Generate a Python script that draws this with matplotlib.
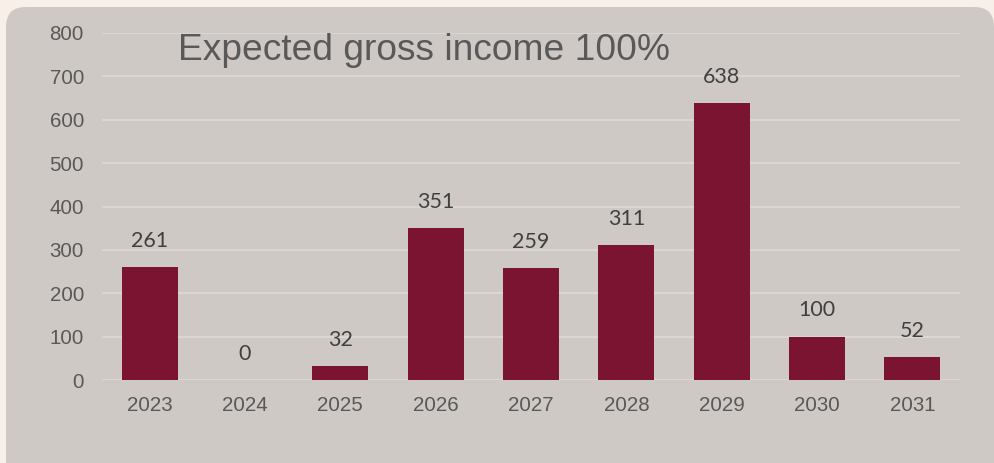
import matplotlib.pyplot as plt
from matplotlib.patches import FancyBboxPatch

years = ["2023", "2024", "2025", "2026", "2027", "2028", "2029", "2030", "2031"]
income = [261, 0, 32, 351, 259, 311, 638, 100, 52]
yticks = [0, 100, 200, 300, 400, 500, 600, 700, 800]

bar_color = "#7b1430"
panel_color = "#cfc9c5"
page_color = "#f8f0e8"
text_gray = "#595959"

fig = plt.figure(figsize=(9.94, 4.63), dpi=100)
fig.patch.set_facecolor(page_color)

# rounded grey panel behind the chart
panel = FancyBboxPatch((6 / 994, -0.05), 1 - 6 / 994, 1.05 - 7 / 463,
                       boxstyle="round,pad=0,rounding_size=0.02",
                       transform=fig.transFigure, facecolor=panel_color,
                       edgecolor="none", mutation_aspect=994 / 463, zorder=-5)
fig.patches.append(panel)

ax = fig.add_axes([102 / 994, 1 - 380 / 463, (960 - 102) / 994, (380 - 33) / 463])
ax.set_facecolor("none")

x = range(len(years))
bars = ax.bar(x, income, width=0.59, color=bar_color, zorder=3)

for xi, v in zip(x, income):
    ax.annotate(f"{v}", (xi, v), xytext=(0, 14.5), textcoords="offset points",
                ha="center", va="baseline", fontsize=15.5, color="#404040",
                family="Lato")

ax.set_xlim(-0.5, len(years) - 0.5)
ax.set_ylim(0, 800)
ax.set_yticks(yticks)
ax.set_xticks(list(x))
ax.set_xticklabels(years)
ax.grid(axis="y", color="#dcd8d5", linewidth=1.3, zorder=0)
ax.tick_params(length=0, labelsize=14.8, labelcolor=text_gray)
ax.tick_params(axis="y", pad=13)
ax.tick_params(axis="x", pad=11.5)
for s in ax.spines.values():
    s.set_visible(False)
for lbl in ax.get_xticklabels() + ax.get_yticklabels():
    lbl.set_family("Liberation Sans")

fig.text(178 / 994, 1 - 50 / 463, "Expected gross income 100%", fontsize=26.7,
         color=text_gray, family="Liberation Sans", ha="left", va="center")

fig.savefig("out.png", dpi=100, facecolor=fig.get_facecolor())
